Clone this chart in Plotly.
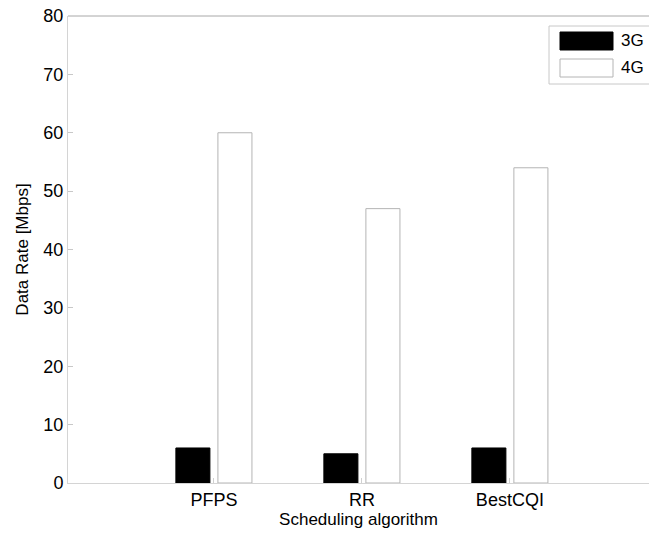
import plotly.graph_objects as go

categories = ["PFPS", "RR", "BestCQI"]
positions = [1, 2, 3]
rate_3g = [6, 5, 6]
rate_4g = [60, 47, 54]
y_ticks = [0, 10, 20, 30, 40, 50, 60, 70, 80]

FONT = "Liberation Sans, Arial, Helvetica, sans-serif"
L, R, T, B = 68, 0, 16, 53
W, H = 649, 536
pw, ph = W - L - R, H - T - B

def px(x):
    return (x - L) / pw

def py(y):
    return (H - B - y) / ph

fig = go.Figure()
fig.add_trace(go.Bar(x=positions, y=rate_3g, name="3G", width=0.23, offset=-0.257,
                     marker=dict(color="black", line=dict(color="black", width=1)),
                     showlegend=False))
fig.add_trace(go.Bar(x=positions, y=rate_4g, name="4G", width=0.23, offset=0.027,
                     marker=dict(color="white", line=dict(color="#b4b4b4", width=1)),
                     showlegend=False))

LEG = "#c8c8c8"
shapes = [
    # top border of the axes box
    dict(type="line", xref="paper", yref="paper", x0=0, x1=1, y0=1, y1=1,
         line=dict(color="#a8a8a8", width=1)),
    # legend box (right side runs off the figure, as in the original)
    dict(type="line", xref="paper", yref="paper", x0=px(549), x1=1, y0=py(26), y1=py(26),
         line=dict(color=LEG, width=1)),
    dict(type="line", xref="paper", yref="paper", x0=px(549), x1=1, y0=py(84), y1=py(84),
         line=dict(color=LEG, width=1)),
    dict(type="line", xref="paper", yref="paper", x0=px(549), x1=px(549), y0=py(84), y1=py(26),
         line=dict(color=LEG, width=1)),
    dict(type="rect", xref="paper", yref="paper", x0=px(560), x1=px(613), y0=py(50), y1=py(32),
         line=dict(color="black", width=1), fillcolor="black"),
    dict(type="rect", xref="paper", yref="paper", x0=px(560), x1=px(613), y0=py(77), y1=py(59),
         line=dict(color="#b4b4b4", width=1), fillcolor="white"),
]
annotations = [
    dict(text="3G", xref="paper", yref="paper", x=px(619), y=py(41), xanchor="left", yanchor="middle",
         showarrow=False, font=dict(family=FONT, size=17, color="black")),
    dict(text="4G", xref="paper", yref="paper", x=px(619), y=py(68), xanchor="left", yanchor="middle",
         showarrow=False, font=dict(family=FONT, size=17, color="black")),
]

fig.update_layout(
    width=W, height=H,
    margin=dict(l=L, r=R, t=T, b=B, pad=0),
    paper_bgcolor="white", plot_bgcolor="white",
    font=dict(family=FONT, size=17, color="black"),
    shapes=shapes,
    annotations=annotations,
    xaxis=dict(range=[0.014, 3.94], tickvals=positions, ticktext=categories,
               showgrid=False, zeroline=False, showline=True, linecolor="#d4d4d4", linewidth=1,
               ticks="inside", ticklen=5, tickcolor="#d0d0d0",
               tickfont=dict(family=FONT, size=18, color="black"),
               title=dict(text="Scheduling algorithm", standoff=4,
                          font=dict(family=FONT, size=17, color="black"))),
    yaxis=dict(range=[0, 80], tickvals=y_ticks, showgrid=False, zeroline=False,
               showline=True, linecolor="#d4d4d4", linewidth=1,
               ticks="inside", ticklen=5, tickcolor="#c8c8c8",
               tickfont=dict(family=FONT, size=18, color="black"),
               title=dict(text="Data Rate [Mbps]", standoff=10,
                          font=dict(family=FONT, size=17, color="black"))),
)

fig.write_html("out.html")
